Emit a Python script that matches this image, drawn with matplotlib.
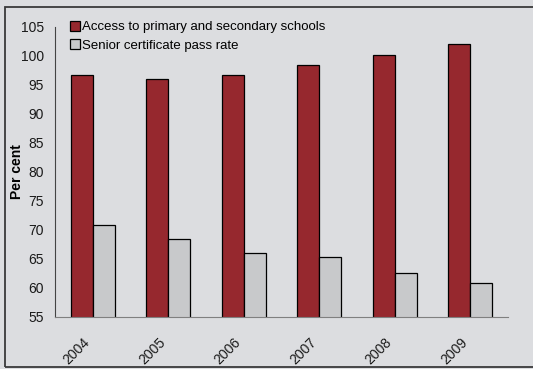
import matplotlib.pyplot as plt
import numpy as np
from matplotlib.patches import Rectangle

plt.rcParams['font.family'] = ['Liberation Sans', 'DejaVu Sans']

# Series values
YEARS = ['2004', '2005', '2006', '2007', '2008', '2009']
ACCESS_SCHOOLS = [96.7, 96.0, 96.8, 98.4, 100.2, 102.1]
PASS_RATE = [70.8, 68.4, 66.0, 65.3, 62.6, 60.8]
SERIES_LABELS = ['Access to primary and secondary schools', 'Senior certificate pass rate']

BG_COLOR = '#dcdde0'
RED = '#96282e'
GREY = '#c8c9cb'
BAR_WIDTH = 0.29

fig = plt.figure(figsize=(5.33, 3.69), dpi=100, facecolor=BG_COLOR)
ax = fig.add_axes([0.1032, 0.141, 0.850, 0.786])
ax.set_facecolor(BG_COLOR)

# outer frame around the chart
fig.patches.append(Rectangle((5 / 533, 2 / 369), 1.2, 360 / 369, transform=fig.transFigure,
                             fill=False, edgecolor='#3a3a3a', linewidth=1.3))

x = np.arange(len(YEARS))
ax.bar(x - BAR_WIDTH / 2, ACCESS_SCHOOLS, BAR_WIDTH, color=RED, edgecolor='black',
       linewidth=0.9, label=SERIES_LABELS[0])
ax.bar(x + BAR_WIDTH / 2, PASS_RATE, BAR_WIDTH, color=GREY, edgecolor='black',
       linewidth=0.9, label=SERIES_LABELS[1])

ax.set_ylim(55, 105)
ax.set_xlim(-0.5, len(YEARS) - 0.5)
ax.set_yticks(range(55, 106, 5))
ax.set_xticks(x)
ax.set_xticklabels(YEARS, rotation=45, ha='right')
ax.tick_params(axis='both', length=0, labelsize=10, colors='#1a1a1a')
ax.tick_params(axis='y', pad=8)
ax.tick_params(axis='x', pad=13)
ax.set_ylabel('Per cent', fontsize=10, fontweight='bold')
ax.yaxis.set_label_coords(-0.068, 0.5)

for side in ['top', 'right']:
    ax.spines[side].set_visible(False)
ax.spines['left'].set_color('#444444')
ax.spines['bottom'].set_color('#808080')

ax.legend(loc='upper left', bbox_to_anchor=(0.033, 1.021), frameon=False, fontsize=9.5,
          handlelength=0.75, handleheight=0.75, handletextpad=0.2, labelspacing=0.45,
          borderaxespad=0, borderpad=0)

fig.savefig('out.png', dpi=100, facecolor=BG_COLOR)
